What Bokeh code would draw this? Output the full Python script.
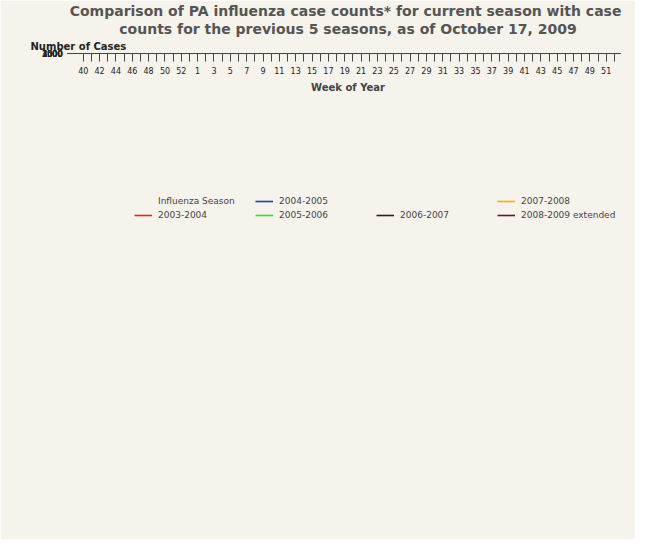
from bokeh.plotting import figure
from bokeh.models import FixedTicker, Legend, LegendItem, Title, Range1d
from bokeh.embed import file_html
from bokeh.resources import INLINE

weeks = list(range(40, 54)) + list(range(1, 53))
idx = list(range(len(weeks)))

s2003 = [5,5,8,10,12,15,20,40,100,450,900,1350,1650,1480,1600,500,250,120,60,40,30,25,20,15,12,10,
         10,8,8,6,6,5,5,5,4,4,4,3,3,3,3,2,2,2,2,2,2,2,2,2,2,2,2]
s2004 = [5,5,8,10,12,15,20,25,30,60,100,150,220,270,320,380,460,600,850,1420,1650,1350,1000,650,560,540,400,250,150,100,60,40,30,20,
         15,12,10,10,8,8,6,6,5,5,5,4,4,4,3,3,3,3,3]
s2005 = [3,3,4,5,5,6,8,10,12,15,20,25,30,40,50,60,80,120,200,320,480,650,800,950,820,880,720,550,400,350,330,120,60,30,
         20,15,12,10,8,8,6,6,5,5,5,4,4,4,3,3,3,3,3]
s2006 = [5,5,8,10,12,15,18,20,25,30,40,60,80,90,90,90,80,150,180,200,240,270,290,300,350,320,310,260,200,150,100,70,50,30,
         20,15,12,10,8,8,6,6,5,5,5,4,4,4,3,3,3,3,3]
s2007 = [3,3,5,5,6,8,10,12,15,20,30,40,50,60,80,150,300,500,1200,1750,2050,2550,2100,1950,1550,1250,1050,700,400,330,120,60,40,25,
         20,15,12,10,8,8,6,6,5,5,5,4,4,4,3,3,3,3,3]
s2008 = [5,5,8,10,12,15,18,20,25,30,35,40,45,50,50,80,150,350,550,820,900,1200,1250,1050,750,550,350,200,130,100,100,100,110,150,
         250,400,800,980,900,500,400,150,130,120,120,50,100,90,150,300,480,600,720,1600,3750]

seasons = [("2003-2004", s2003, "#e8261a"), ("2004-2005", s2004, "#2b3a9e"), ("2005-2006", s2005, "#30dd30"),
           ("2006-2007", s2006, "#2a2018"), ("2007-2008", s2007, "#f0b400"), ("2008-2009 extended", s2008, "#5a1838")]

p = figure(width=635, height=539, output_backend="svg", toolbar_location=None,
           x_range=Range1d(-0.95, 65.75), y_range=Range1d(-83, 4083),
           min_border_left=75, min_border_right=15, min_border_top=0, min_border_bottom=0)
p.background_fill_color = "#e9dfcd"
p.border_fill_color = "#f6f3ec"
p.outline_line_color = "#554433"
p.grid.visible = False

rends = {}
for name, vals, col in seasons:
    rends[name] = p.line(idx[:len(vals)], vals, line_color=col, line_width=1.6)
dummy = p.line([0, 1], [0, 0], line_alpha=0)

order = [("Influenza Season", dummy), ("2003-2004", None), ("2004-2005", None), ("2005-2006", None),
         (" ", dummy), ("2006-2007", None), ("2007-2008", None), ("2008-2009 extended", None)]
items = [LegendItem(label=lab, renderers=[r if r is not None else rends[lab]]) for lab, r in order]

p.xaxis.ticker = FixedTicker(ticks=idx)
p.xaxis.major_label_overrides = {i: (str(w) if i % 2 == 0 else "") for i, w in zip(idx, weeks)}
p.xaxis.axis_label = "Week of Year"
p.xaxis.axis_label_text_font = "DejaVu Sans"
p.xaxis.axis_label_text_font_style = "bold"
p.xaxis.axis_label_text_font_size = "10px"
p.yaxis.ticker = FixedTicker(ticks=list(range(0, 4001, 500)), minor_ticks=list(range(0, 4001, 100)))
for ax in (p.xaxis, p.yaxis):
    ax.major_label_text_font = "DejaVu Sans"
    ax.major_label_text_font_size = "8px"
    ax.major_label_text_color = "#222"
    ax.axis_line_color = "#444"
    ax.major_tick_line_color = "#444"
    ax.minor_tick_line_color = "#444"
    ax.major_tick_out = 8
    ax.major_tick_in = 0
    ax.minor_tick_out = 5
    ax.minor_tick_in = 0
p.xaxis.minor_tick_line_color = None

legend = Legend(items=items, ncols=4, background_fill_alpha=0, border_line_color=None,
                label_text_font="DejaVu Sans", label_text_font_size="9px", label_width=95, glyph_width=18,
                glyph_height=10, spacing=2, padding=4, label_standoff=6, label_height=12, margin=4)
p.add_layout(legend, "below")

for t in ["*Patients with positive antigen, nucleic acid, and culture test results reported",
          "to Pennsylvania's electronic disease reporting system, PA-NEDSS"]:
    p.add_layout(Title(text=t, align="center", text_font="DejaVu Sans", text_font_size="13.5px",
                       text_font_style="normal", text_color="#333", standoff=0), "below")
p.add_layout(Title(text="Number of Cases", align="left", offset=-45, text_font="DejaVu Sans",
                   text_font_size="10px", text_font_style="bold", text_color="#222", standoff=4), "above")
for t in ["counts for the previous 5 seasons, as of October 17, 2009",
          "Comparison of PA influenza case counts* for current season  with case"]:
    p.add_layout(Title(text=t, align="center", text_font="DejaVu Sans", text_font_size="14px",
                       text_font_style="bold", text_color="#555", standoff=0), "above")

open("out.html", "w").write(file_html(p, INLINE))
